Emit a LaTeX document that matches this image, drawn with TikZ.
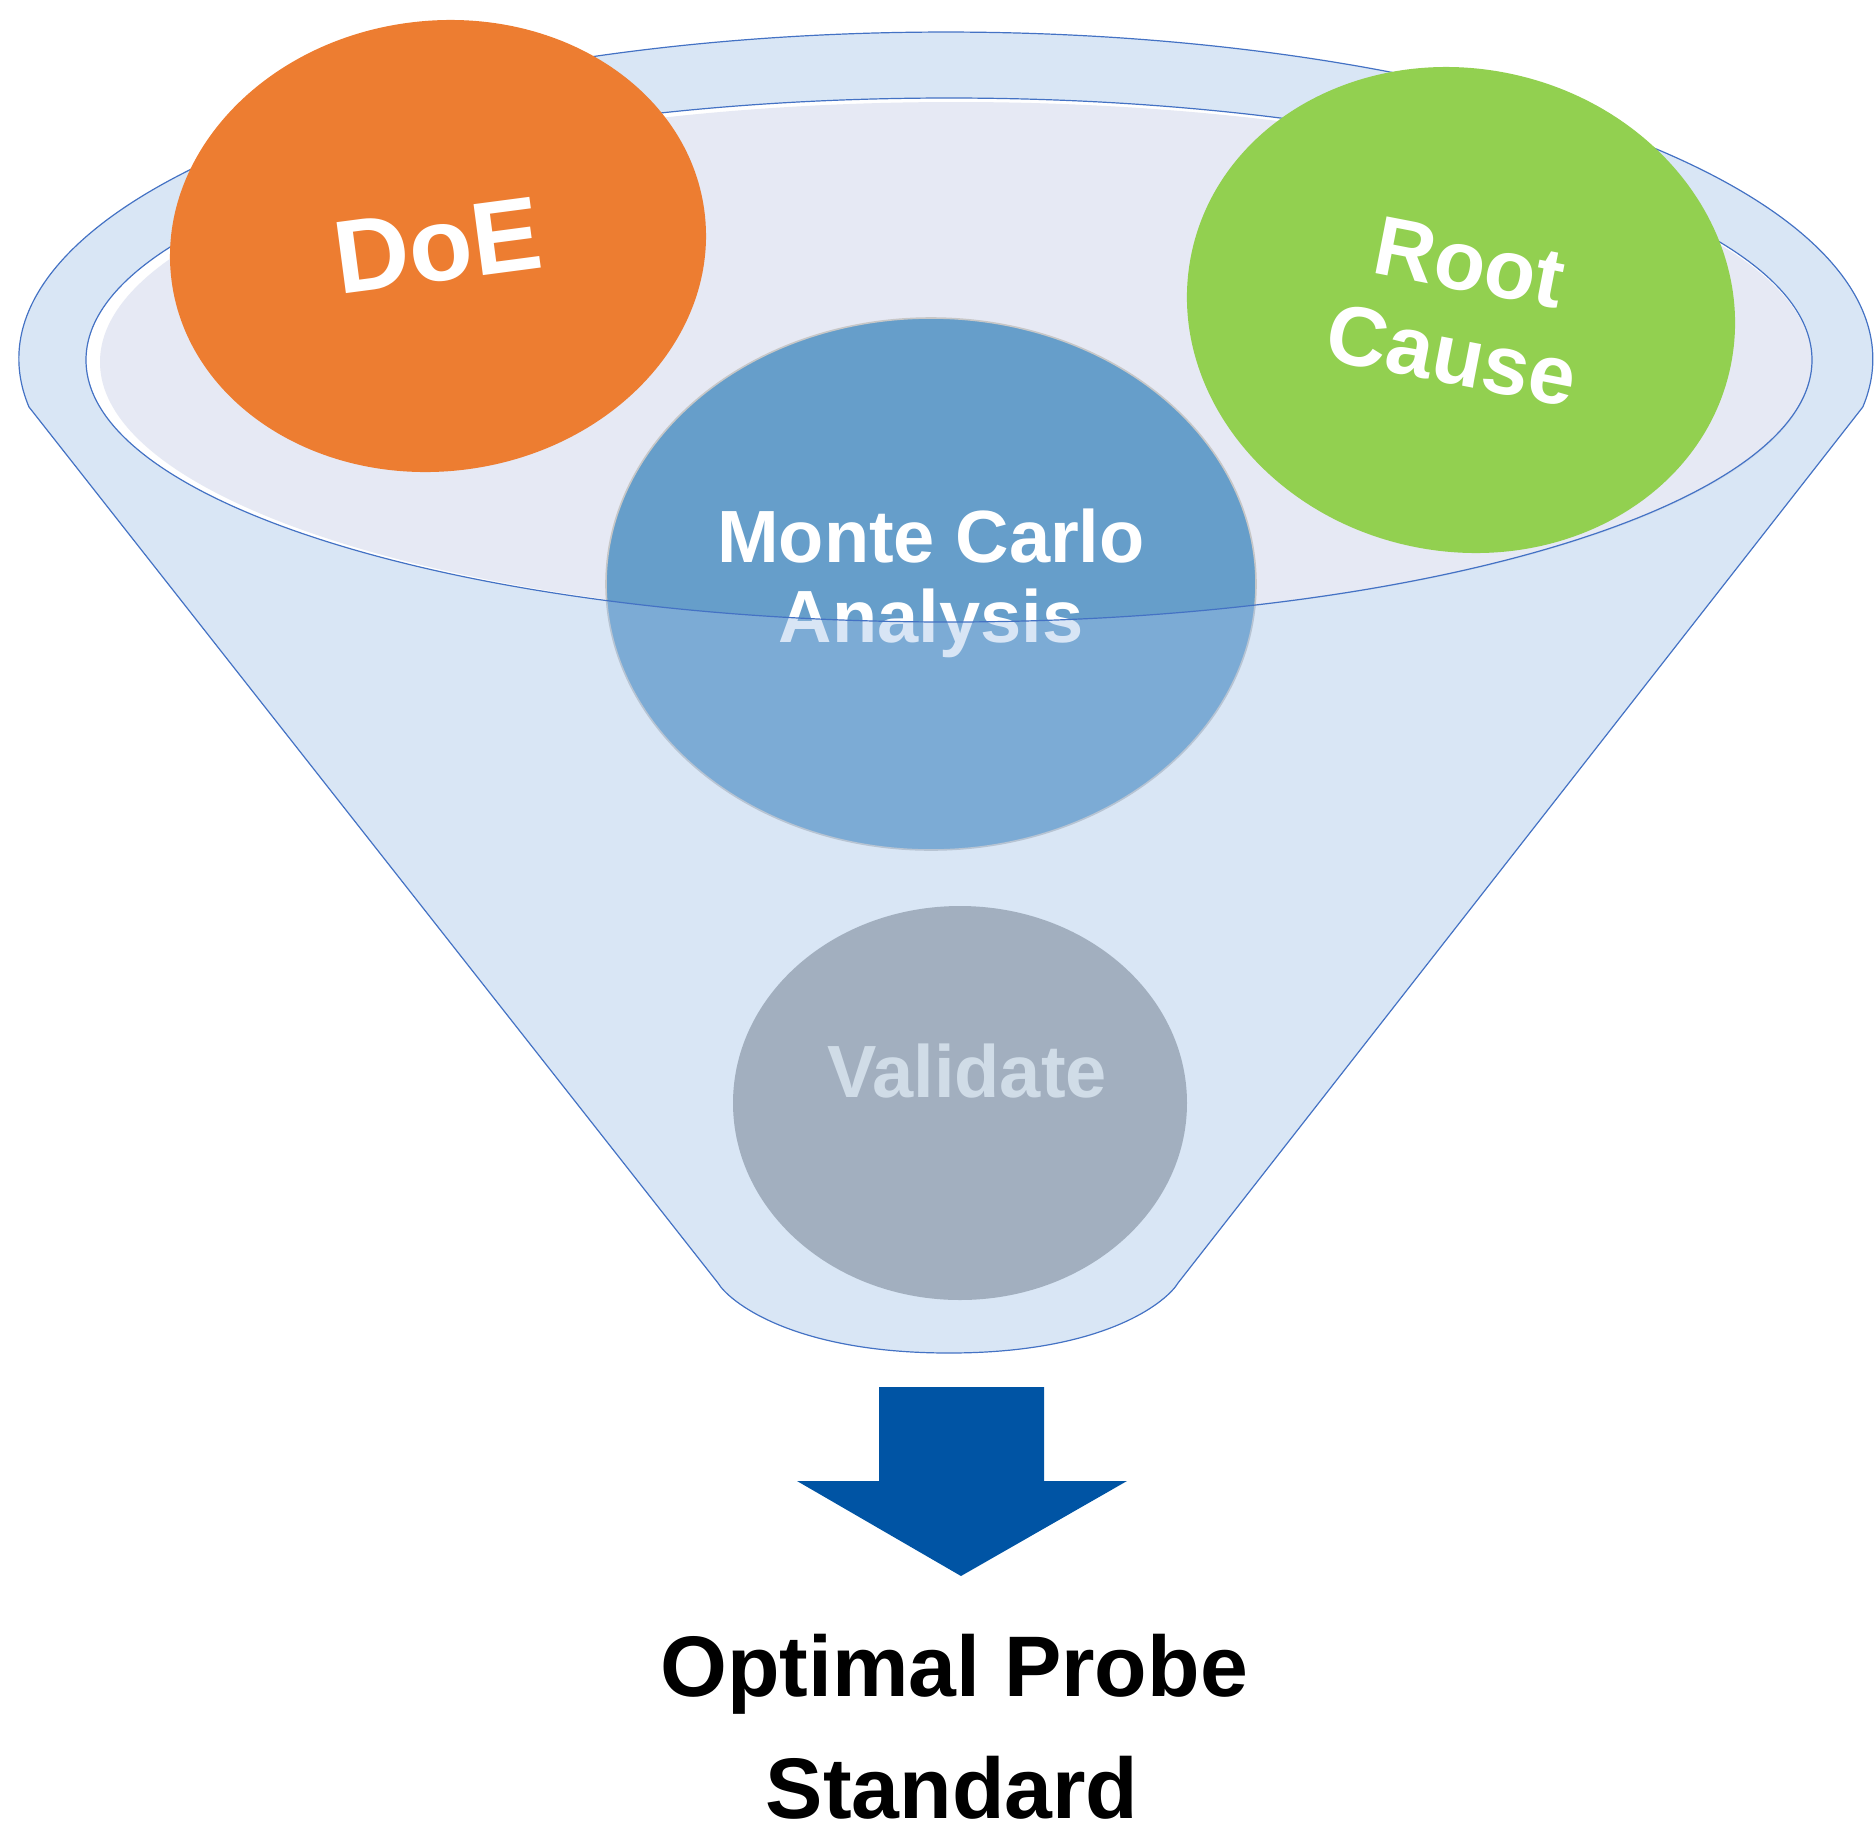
\documentclass[tikz,border=0pt]{standalone}
\usepackage{fontspec}
\setmainfont{Liberation Sans}
\usetikzlibrary{shapes.geometric}
\definecolor{doec}{HTML}{ED7D31}
\definecolor{rootc}{HTML}{92D050}
\definecolor{mcc}{HTML}{669ECA}
\definecolor{valc}{HTML}{A5A5A5}
\definecolor{func}{RGB}{159,192,230}
\definecolor{edgec}{HTML}{4472C4}
\definecolor{lavc}{HTML}{E6E9F4}
\definecolor{arrc}{HTML}{0054A4}
\definecolor{valtxt}{RGB}{241,239,233}
\begin{document}
\begin{tikzpicture}[x=0.5pt,y=-0.5pt,
  blob/.style={ellipse, inner sep=0pt, outer sep=0pt, draw=none},
  edgeline/.style={draw=edgec, line width=0.6pt},
  boldtxt/.style={inner sep=0pt, font=\fontsize{#1}{#1}\selectfont\bfseries}]
\useasboundingbox (0,0) rectangle (1876,1827);

% inner rim (opening)
\fill[white] (949,360) ellipse [x radius=863, y radius=262];
\fill[lavc] (956,362) ellipse [x radius=856, y radius=260];

% Monte Carlo and Validate (seen through the funnel body)
\node[blob, fill=mcc, draw=black!22, line width=0.8pt,
      minimum width=325pt, minimum height=266pt] (mc) at (931,584) {};
\node[inner sep=0pt, text=white, align=center,
      font=\fontsize{37}{40}\selectfont\bfseries] (mct) at (931,583) {Monte Carlo\\Analysis};
\node[blob, fill=valc, minimum width=227pt, minimum height=197pt] (val) at (960,1103) {};
\node[boldtxt=37, text=valtxt, anchor=base] (valt) at (967,1097) {Validate};

% funnel body (translucent)
\fill[func, fill opacity=0.4, even odd rule]
  (29,407) arc[start angle=171.56, end angle=368.44, x radius=927, y radius=327]
  -- (1178,1283) .. controls (1168,1300) and (1108,1353) .. (949,1353)
  .. controls (790,1353) and (728,1300) .. (718,1283) -- cycle
  (949,360) ellipse [x radius=863, y radius=262];
\draw[edgeline]
  (29,407) arc[start angle=171.56, end angle=368.44, x radius=927, y radius=327]
  -- (1178,1283) .. controls (1168,1300) and (1108,1353) .. (949,1353)
  .. controls (790,1353) and (728,1300) .. (718,1283) -- cycle;
\draw[edgeline] (949,360) ellipse [x radius=863, y radius=262];

% DoE and Root Cause on top
\node[blob, fill=doec, minimum width=268.7pt, minimum height=225.2pt, rotate=7.5,
      text=white, font=\fontsize{52}{52}\selectfont\bfseries] (doe) at (438,246) {DoE};
\node[blob, fill=rootc, minimum width=275.4pt, minimum height=241.4pt, rotate=-12] (rc) at (1461,310) {};
\node[inner sep=0pt, rotate=-11, text=white, align=center,
      font=\fontsize{42}{47}\selectfont\bfseries] (rct) at (1461,309) {Root\\Cause};

% arrow
\fill[arrc] (879,1387) -- (1044,1387) -- (1044,1481) -- (1127,1481) -- (961,1576)
  -- (797,1481) -- (879,1481) -- cycle;

% result
\node[boldtxt=43, anchor=base] (opt) at (954,1696) {Optimal Probe};
\node[boldtxt=43, anchor=base] (std) at (952,1818) {Standard};
\end{tikzpicture}
\end{document}
